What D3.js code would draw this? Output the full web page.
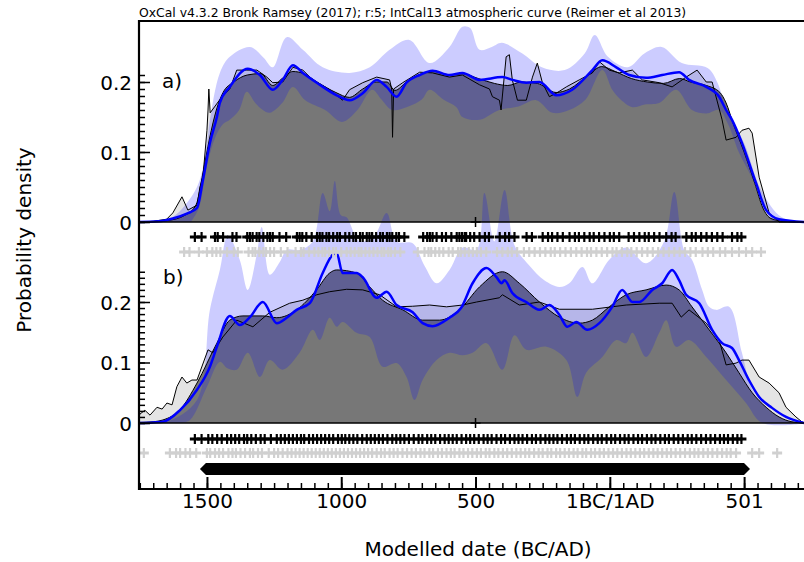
<!DOCTYPE html>
<html>
<head>
<meta charset="utf-8">
<script src="https://cdn.jsdelivr.net/npm/d3@7"></script>
<style>
  body { margin: 0; background: #fff; }
  text { font-family: "DejaVu Sans", sans-serif; fill: #000; }
</style>
</head>
<body>
<svg id="chart" width="804" height="562"></svg>
<script>
// OxCal-style stacked density plot, two panels sharing one date axis.
// Years are astronomical-ish: negative = BC.

const yearDomain = [-1753, 723];
const xTicksMajor = [-1500, -1000, -500, 0, 500];
const xTickLabels = ['1500', '1000', '500', '1BC/1AD', '501'];
const yTicksMajor = [0, 0.1, 0.2];
const yTickLabels = ['0', '0.1', '0.2'];

// ---- panel a) ----
const sumA = [[-1753,0],[-1700,0.001],[-1650,0.004],[-1627,0.013],[-1593,0.036],[-1571,0.017],[-1537,0.024],[-1526,0.05],[-1515,0.064],[-1500,0.131],[-1496,0.16],[-1493,0.19],[-1488,0.156],[-1444,0.179],[-1415,0.19],[-1389,0.217],[-1352,0.217],[-1314,0.217],[-1277,0.207],[-1255,0.199],[-1218,0.2],[-1180,0.221],[-1143,0.217],[-1106,0.203],[-1043,0.189],[-995,0.174],[-969,0.189],[-920,0.199],[-868,0.207],[-820,0.203],[-812,0.19],[-809,0.121],[-805,0.19],[-771,0.199],[-708,0.214],[-660,0.213],[-597,0.207],[-549,0.21],[-485,0.196],[-448,0.19],[-437,0.179],[-411,0.174],[-405,0.16],[-386,0.236],[-374,0.239],[-363,0.203],[-344,0.174],[-311,0.174],[-288,0.207],[-270,0.227],[-251,0.199],[-225,0.179],[-199,0.184],[-162,0.193],[-114,0.203],[-65,0.213],[-39,0.229],[-2,0.217],[35,0.213],[84,0.217],[121,0.203],[184,0.199],[232,0.193],[284,0.207],[325,0.217],[359,0.2],[381,0.2],[418,0.146],[433,0.117],[470,0.121],[492,0.131],[518,0.134],[530,0.127],[556,0.064],[593,0.013],[630,0],[723,0]];
const kdeA = [[-1753,0],[-1650,0.002],[-1580,0.01],[-1540,0.025],[-1515,0.07],[-1490,0.12],[-1465,0.16],[-1440,0.185],[-1400,0.2],[-1350,0.21],[-1300,0.212],[-1255,0.195],[-1220,0.205],[-1180,0.215],[-1140,0.212],[-1090,0.2],[-1020,0.185],[-970,0.178],[-920,0.19],[-870,0.2],[-830,0.2],[-800,0.188],[-757,0.2],[-700,0.212],[-650,0.215],[-600,0.21],[-550,0.212],[-490,0.205],[-430,0.198],[-380,0.195],[-330,0.2],[-270,0.198],[-200,0.185],[-150,0.19],[-80,0.21],[-30,0.222],[20,0.215],[80,0.205],[140,0.2],[200,0.198],[260,0.205],[300,0.2],[360,0.195],[410,0.185],[433,0.17],[460,0.14],[500,0.1],[540,0.055],[570,0.02],[600,0.005],[650,0.001],[723,0]];
const bandLowA = [[-1753,0],[-1560,0],[-1530,0.02],[-1500,0.08],[-1470,0.12],[-1440,0.14],[-1415,0.146],[-1380,0.16],[-1352,0.186],[-1320,0.17],[-1292,0.16],[-1266,0.156],[-1220,0.17],[-1180,0.193],[-1134,0.174],[-1060,0.16],[-997,0.143],[-940,0.16],[-885,0.189],[-850,0.175],[-811,0.16],[-750,0.165],[-700,0.175],[-671,0.189],[-620,0.175],[-571,0.164],[-549,0.15],[-485,0.146],[-411,0.16],[-340,0.165],[-274,0.174],[-214,0.156],[-151,0.16],[-90,0.175],[-28,0.217],[9,0.189],[40,0.175],[84,0.164],[130,0.168],[184,0.17],[247,0.189],[306,0.16],[360,0.155],[407,0.16],[440,0.14],[480,0.1],[520,0.07],[556,0.041],[602,0.003],[640,0],[723,0]];
const bandHighA = [[-1753,0],[-1680,0.002],[-1627,0.007],[-1537,0.05],[-1500,0.113],[-1489,0.146],[-1452,0.213],[-1415,0.236],[-1340,0.25],[-1290,0.235],[-1255,0.221],[-1203,0.264],[-1143,0.246],[-1069,0.221],[-969,0.213],[-894,0.221],[-820,0.246],[-746,0.26],[-671,0.227],[-597,0.25],[-549,0.279],[-520,0.277],[-485,0.246],[-440,0.25],[-402,0.256],[-327,0.241],[-253,0.221],[-168,0.217],[-93,0.241],[-56,0.267],[-7,0.236],[67,0.221],[130,0.241],[193,0.25],[268,0.227],[364,0.22],[401,0.199],[438,0.156],[500,0.113],[563,0.046],[639,0.007],[723,0]];
const meanA = [[-1753,0],[-1680,0.001],[-1627,0.005],[-1575,0.012],[-1537,0.02],[-1515,0.06],[-1489,0.113],[-1463,0.15],[-1452,0.17],[-1415,0.193],[-1348,0.219],[-1303,0.21],[-1255,0.189],[-1218,0.203],[-1180,0.224],[-1143,0.213],[-1091,0.199],[-1017,0.181],[-969,0.174],[-920,0.184],[-868,0.203],[-831,0.193],[-794,0.179],[-757,0.199],[-708,0.21],[-660,0.216],[-597,0.21],[-549,0.213],[-485,0.203],[-400,0.207],[-363,0.203],[-311,0.199],[-262,0.2],[-199,0.181],[-140,0.189],[-65,0.217],[-28,0.231],[24,0.221],[72,0.21],[135,0.206],[195,0.21],[258,0.214],[295,0.203],[359,0.193],[407,0.179],[433,0.16],[455,0.146],[492,0.113],[544,0.056],[582,0.017],[630,0.004],[723,0]];
const crossBlackA = [-1545,-1520,-1470,-1460,-1440,-1405,-1390,-1350,-1340,-1330,-1315,-1305,-1290,-1275,-1265,-1255,-1230,-1205,-1165,-1155,-1145,-1130,-1110,-1090,-1080,-1070,-1055,-1045,-1030,-1015,-1005,-985,-970,-955,-945,-930,-920,-905,-895,-885,-870,-855,-845,-830,-820,-810,-795,-785,-765,-695,-680,-670,-660,-645,-625,-610,-590,-570,-560,-550,-540,-535,-520,-505,-485,-465,-450,-410,-390,-375,-355,-310,-290,-250,-230,-215,-195,-175,-150,-130,-115,-95,-75,-60,-40,-20,0,15,35,70,90,110,130,145,165,185,210,230,245,285,305,320,340,360,380,400,420,455,475,490];
const crossGreyA = [-1585,-1565,-1530,-1500,-1480,-1465,-1450,-1425,-1400,-1385,-1345,-1330,-1320,-1305,-1290,-1280,-1265,-1250,-1225,-1200,-1170,-1150,-1140,-1120,-1100,-1085,-1070,-1060,-1045,-1030,-1020,-1000,-980,-965,-950,-935,-925,-910,-895,-880,-865,-850,-840,-825,-815,-800,-780,-715,-690,-675,-665,-650,-635,-620,-600,-585,-565,-555,-540,-525,-510,-495,-480,-460,-420,-400,-380,-365,-345,-320,-300,-280,-260,-240,-220,-205,-185,-165,-145,-125,-105,-85,-70,-50,-30,-10,10,25,45,65,80,100,120,140,160,180,200,220,240,260,280,300,320,345,365,385,410,430,455,481,507,530,563];

// ---- panel b) ----
const sumB = [[-1753,0.012],[-1749,0.015],[-1731,0.021],[-1712,0.013],[-1686,0.026],[-1667,0.023],[-1649,0.033],[-1630,0.03],[-1612,0.06],[-1593,0.076],[-1575,0.066],[-1556,0.071],[-1537,0.071],[-1496,0.121],[-1478,0.116],[-1441,0.142],[-1389,0.17],[-1329,0.159],[-1266,0.183],[-1192,0.198],[-1143,0.203],[-1091,0.212],[-1043,0.217],[-980,0.221],[-920,0.22],[-857,0.212],[-794,0.192],[-734,0.193],[-671,0.195],[-608,0.192],[-548,0.195],[-496,0.2],[-411,0.207],[-400,0.212],[-337,0.195],[-262,0.2],[-188,0.188],[-65,0.188],[61,0.195],[184,0.198],[232,0.198],[266,0.175],[295,0.187],[359,0.165],[407,0.137],[433,0.096],[470,0.099],[492,0.104],[518,0.104],[556,0.076],[593,0.066],[630,0.05],[656,0.026],[693,0.01],[715,0.002],[723,0]];
const kdeB = [[-1753,0.001],[-1700,0.002],[-1664,0.005],[-1600,0.022],[-1537,0.066],[-1463,0.132],[-1415,0.17],[-1366,0.177],[-1292,0.177],[-1240,0.174],[-1166,0.187],[-1092,0.22],[-1043,0.248],[-1017,0.253],[-943,0.248],[-894,0.225],[-846,0.203],[-771,0.187],[-697,0.17],[-634,0.17],[-560,0.187],[-485,0.225],[-400,0.25],[-337,0.231],[-262,0.2],[-188,0.175],[-114,0.165],[-65,0.17],[-2,0.192],[61,0.212],[135,0.22],[210,0.228],[258,0.22],[306,0.192],[370,0.154],[433,0.116],[481,0.083],[530,0.05],[582,0.026],[630,0.01],[678,0.002],[723,0]];
const bandLowB = [[-1753,0],[-1600,0],[-1563,0.005],[-1500,0.06],[-1452,0.101],[-1426,0.091],[-1389,0.088],[-1348,0.116],[-1303,0.076],[-1266,0.104],[-1218,0.088],[-1155,0.116],[-1106,0.154],[-1080,0.137],[-1043,0.174],[-1017,0.159],[-995,0.167],[-943,0.149],[-894,0.142],[-846,0.093],[-794,0.099],[-757,0.076],[-727,0.038],[-697,0.071],[-645,0.104],[-597,0.116],[-548,0.112],[-511,0.116],[-459,0.132],[-400,0.088],[-355,0.145],[-311,0.121],[-236,0.126],[-162,0.104],[-121,0.043],[-88,0.083],[-28,0.109],[24,0.137],[61,0.132],[84,0.149],[135,0.109],[184,0.149],[210,0.17],[247,0.126],[295,0.137],[359,0.109],[433,0.071],[507,0.033],[567,0],[723,0]];
const bandHighB = [[-1753,0],[-1700,0],[-1649,0.002],[-1537,0.038],[-1489,0.187],[-1452,0.253],[-1422,0.31],[-1378,0.27],[-1348,0.22],[-1314,0.28],[-1296,0.324],[-1266,0.245],[-1229,0.266],[-1203,0.286],[-1155,0.286],[-1106,0.3],[-1069,0.38],[-1043,0.35],[-1024,0.4],[-1002,0.344],[-980,0.34],[-931,0.3],[-876,0.31],[-831,0.347],[-794,0.3],[-734,0.297],[-690,0.26],[-645,0.231],[-597,0.253],[-548,0.29],[-496,0.286],[-467,0.38],[-430,0.3],[-392,0.385],[-355,0.294],[-299,0.26],[-244,0.236],[-188,0.225],[-151,0.231],[-102,0.258],[-65,0.231],[-2,0.27],[61,0.29],[135,0.264],[202,0.3],[240,0.382],[277,0.286],[306,0.27],[344,0.22],[370,0.192],[396,0.187],[444,0.192],[492,0.116],[530,0.055],[582,0.026],[656,0.005],[723,0]];
const meanB = [[-1753,0],[-1700,0.001],[-1664,0.002],[-1601,0.021],[-1537,0.055],[-1489,0.093],[-1463,0.126],[-1415,0.177],[-1378,0.162],[-1340,0.175],[-1292,0.2],[-1240,0.165],[-1203,0.174],[-1166,0.187],[-1117,0.198],[-1069,0.248],[-1032,0.278],[-1017,0.281],[-995,0.248],[-943,0.248],[-920,0.241],[-868,0.207],[-831,0.217],[-794,0.195],[-734,0.183],[-697,0.165],[-660,0.16],[-597,0.174],[-554,0.19],[-511,0.231],[-459,0.256],[-422,0.241],[-403,0.231],[-392,0.236],[-363,0.215],[-311,0.2],[-262,0.187],[-225,0.195],[-188,0.179],[-158,0.159],[-125,0.167],[-84,0.154],[-39,0.165],[9,0.192],[46,0.22],[84,0.2],[110,0.2],[158,0.22],[195,0.231],[232,0.253],[258,0.236],[284,0.212],[333,0.198],[381,0.154],[418,0.132],[455,0.124],[481,0.104],[518,0.071],[556,0.043],[604,0.025],[656,0.01],[723,0]];
const crossBlackB = [-1545,-1520,-1495,-1480,-1462,-1445,-1425,-1410,-1395,-1380,-1362,-1350,-1335,-1318,-1300,-1285,-1262,-1240,-1225,-1210,-1195,-1180,-1165,-1150,-1138,-1120,-1105,-1090,-1075,-1060,-1045,-1030,-1012,-998,-985,-970,-955,-940,-922,-905,-890,-875,-860,-845,-828,-810,-795,-780,-765,-748,-730,-712,-698,-680,-665,-650,-632,-615,-600,-585,-570,-552,-535,-520,-505,-488,-470,-455,-440,-422,-405,-390,-372,-355,-340,-325,-308,-290,-275,-258,-240,-225,-210,-195,-178,-160,-145,-130,-112,-95,-80,-62,-45,-30,-12,5,20,38,55,70,88,105,120,138,155,170,188,205,220,238,255,272,290,305,322,340,358,375,392,410,425,440,458,475,490];
const crossGreyB = [-1735,-1638,-1615,-1600,-1580,-1563,-1540,-1500,-1488,-1470,-1455,-1440,-1420,-1405,-1392,-1375,-1358,-1340,-1328,-1310,-1295,-1270,-1250,-1235,-1218,-1200,-1185,-1170,-1155,-1140,-1125,-1110,-1095,-1080,-1065,-1050,-1035,-1020,-1005,-990,-975,-960,-945,-930,-915,-900,-885,-868,-852,-838,-820,-805,-790,-772,-755,-738,-722,-705,-690,-672,-658,-640,-625,-608,-592,-578,-560,-545,-528,-512,-495,-480,-462,-448,-430,-415,-398,-382,-365,-348,-332,-315,-300,-282,-265,-250,-232,-218,-200,-185,-168,-152,-135,-120,-102,-88,-70,-55,-38,-22,-5,12,28,45,62,78,95,112,128,145,162,178,195,212,228,245,262,280,298,315,330,348,365,382,400,418,435,450,470,530,556,623];
const rangeB = [-1526, 522];
const markerYear = -500;

// ---- layout ----
const plotL = 139, plotR = 804, plotT = 21, plotB = 489;
const svg = d3.select('#chart');
const x = d3.scaleLinear().domain(yearDomain).range([plotL, plotR]);
const yA = d3.scaleLinear().domain([0, 0.1]).range([222, 152]);
const yB = d3.scaleLinear().domain([0, 0.1]).range([423, 362.5]);

svg.append('defs').append('clipPath').attr('id', 'clip')
  .append('rect').attr('x', plotL).attr('y', plotT).attr('width', plotR - plotL).attr('height', plotB - plotT);
const plot = svg.append('g').attr('clip-path', 'url(#clip)');

function drawPanel(y, s) {
  const area = d3.area().x(p => x(p[0])).y0(y(0)).y1(p => y(p[1]));
  const line = d3.line().x(p => x(p[0])).y(p => y(p[1]));

  plot.append('path').attr('d', area.curve(d3.curveLinear)(s.sum)).attr('fill', '#e4e4e4');
  plot.append('path').attr('d', area.curve(d3.curveMonotoneX)(s.kde)).attr('fill', '#777777');

  // 95% envelope as one closed ring: upper edge forward, lower edge back
  const ring = s.high.concat(s.low.slice(1, -1).reverse());
  plot.append('path').attr('d', line.curve(d3.curveCatmullRom)(ring) + 'Z')
    .attr('fill', 'rgba(0,0,255,0.2)');

  plot.append('path').attr('d', line.curve(d3.curveLinear)(s.sum))
    .attr('fill', 'none').attr('stroke', '#000').attr('stroke-width', 1);
  plot.append('path').attr('d', line.curve(d3.curveMonotoneX)(s.kde))
    .attr('fill', 'none').attr('stroke', '#000').attr('stroke-width', 1);
  plot.append('path').attr('d', line.curve(d3.curveMonotoneX)(s.mean))
    .attr('fill', 'none').attr('stroke', '#0000ff').attr('stroke-width', 2.5);
}

drawPanel(yA, { sum: sumA, kde: kdeA, low: bandLowA, high: bandHighA, mean: meanA });
drawPanel(yB, { sum: sumB, kde: kdeB, low: bandLowB, high: bandHighB, mean: meanB });

// zero baselines + the small marker on each
[yA, yB].forEach(y => {
  plot.append('line').attr('x1', plotL).attr('x2', plotR).attr('y1', y(0)).attr('y2', y(0))
    .attr('stroke', '#000').attr('stroke-width', 1.5);
  plot.append('path')
    .attr('d', `M${x(markerYear) - 5},${y(0)}h10M${x(markerYear)},${y(0) - 5}v10`)
    .attr('stroke', '#000').attr('stroke-width', 1.5);
});

function crossRow(years, cy, color) {
  const g = plot.append('g').attr('stroke', color);
  g.selectAll('path.h').data(years).enter().append('path').attr('class', 'h')
    .attr('d', d => `M${x(d) - 5},${cy}h10`).attr('stroke-width', 3);
  g.selectAll('path.v').data(years).enter().append('path').attr('class', 'v')
    .attr('d', d => `M${x(d)},${cy - 5}v10`).attr('stroke-width', 2.2);
}
crossRow(crossBlackA, 237, '#000');
crossRow(crossGreyA, 252, '#d0d0d0');
crossRow(crossBlackB, 439, '#000');
crossRow(crossGreyB, 453, '#d0d0d0');

// overall range bar with pointed ends
const rx0 = x(rangeB[0]), rx1 = x(rangeB[1]), ry = 469, rh = 6, tip = 6;
plot.append('path')
  .attr('d', `M${rx0},${ry}L${rx0 + tip},${ry - rh}L${rx1 - tip},${ry - rh}L${rx1},${ry}L${rx1 - tip},${ry + rh}L${rx0 + tip},${ry + rh}Z`)
  .attr('fill', '#000');

// ---- axes ----
function yAxis(y, maxMinor) {
  const minor = d3.range(0, maxMinor + 0.001, 0.01);
  svg.append('g').attr('transform', `translate(${plotL},0)`)
    .call(d3.axisRight(y).tickValues(minor).tickSize(6).tickFormat(''))
    .call(g => g.select('.domain').remove())
    .call(g => g.selectAll('line').attr('stroke-width', 1.5));
  svg.append('g').attr('transform', `translate(${plotL},0)`)
    .call(d3.axisRight(y).tickValues(yTicksMajor).tickSize(11).tickFormat(''))
    .call(g => g.select('.domain').remove())
    .call(g => g.selectAll('line').attr('stroke-width', 1.5));
  svg.append('g').attr('transform', `translate(${plotL},0)`)
    .call(d3.axisLeft(y).tickValues(yTicksMajor).tickSize(0).tickPadding(7)
      .tickFormat((d, i) => yTickLabels[i]))
    .call(g => g.select('.domain').remove())
    .call(g => g.selectAll('text').attr('font-size', 20).attr('dy', '0.36em'));
}
yAxis(yA, 0.21);
yAxis(yB, 0.25);

const xMinor = d3.range(-1750, 723, 50);
svg.append('g').attr('transform', `translate(0,${plotB})`)
  .call(d3.axisTop(x).tickValues(xMinor).tickSize(6).tickFormat(''))
  .call(g => g.select('.domain').remove())
  .call(g => g.selectAll('line').attr('stroke-width', 1.5));
svg.append('g').attr('transform', `translate(0,${plotB})`)
  .call(d3.axisTop(x).tickValues(xTicksMajor).tickSize(12).tickFormat(''))
  .call(g => g.select('.domain').remove())
  .call(g => g.selectAll('line').attr('stroke-width', 2));
svg.append('g').attr('transform', `translate(0,${plotB})`)
  .call(d3.axisBottom(x).tickValues(xTicksMajor).tickSize(0).tickPadding(5)
    .tickFormat((d, i) => xTickLabels[i]))
  .call(g => g.select('.domain').remove())
  .call(g => g.selectAll('text').attr('font-size', 20));

// frame: left, top, bottom
svg.append('path')
  .attr('d', `M${plotR},${plotT}H${plotL}V${plotB}H${plotR}`)
  .attr('fill', 'none').attr('stroke', '#000').attr('stroke-width', 2.2);

// texts
svg.append('text').attr('x', plotL).attr('y', 17).attr('font-size', 12.4)
  .text('OxCal v4.3.2 Bronk Ramsey (2017); r:5; IntCal13 atmospheric curve (Reimer et al 2013)');
svg.append('text').attr('x', 162).attr('y', 88).attr('font-size', 20).text('a)');
svg.append('text').attr('x', 163).attr('y', 284).attr('font-size', 20).text('b)');
svg.append('text').attr('x', 478).attr('y', 556).attr('font-size', 20).attr('text-anchor', 'middle')
  .text('Modelled date (BC/AD)');
svg.append('text').attr('transform', 'translate(31,240) rotate(-90)').attr('font-size', 20)
  .attr('text-anchor', 'middle').text('Probability density');
</script>
</body>
</html>
